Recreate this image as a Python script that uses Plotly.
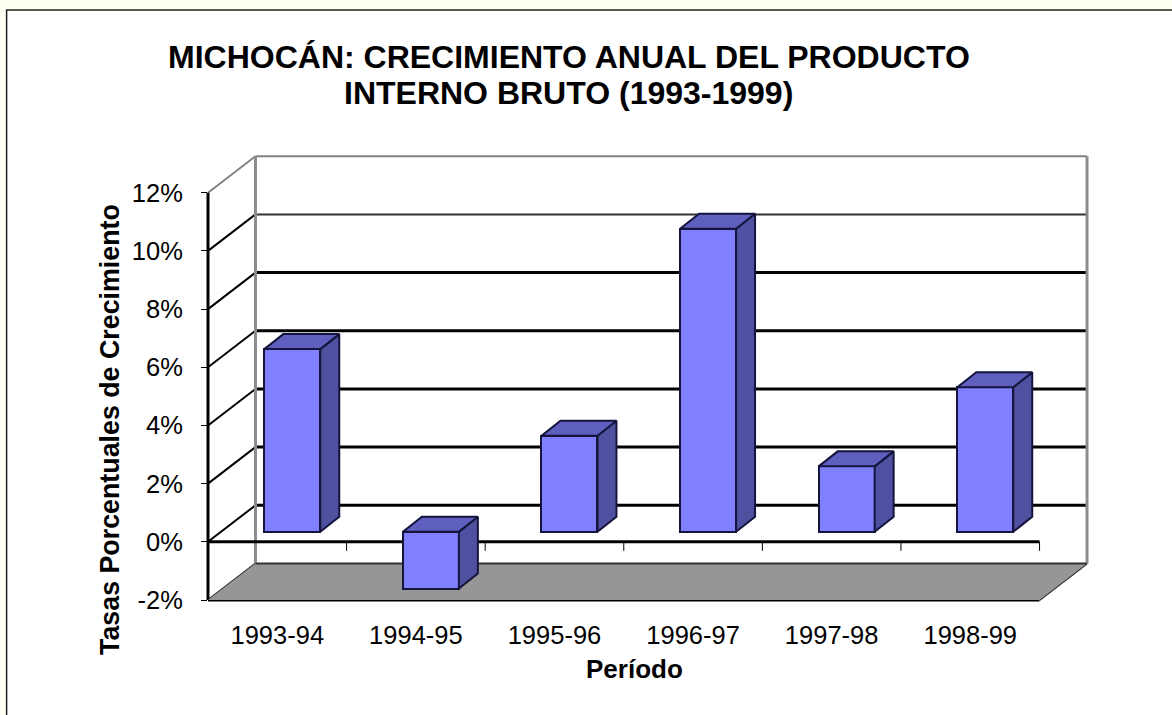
import plotly.graph_objects as go

# --- data ---
periods = ["1993-94", "1994-95", "1995-96", "1996-97", "1997-98", "1998-99"]
growth = [6.28, -1.95, 3.3, 10.42, 2.25, 4.97]
y_ticks = [-2, 0, 2, 4, 6, 8, 10, 12]
y_tick_labels = ["-2%", "0%", "2%", "4%", "6%", "8%", "10%", "12%"]
title_lines = ["MICHOCÁN: CRECIMIENTO ANUAL DEL PRODUCTO", "INTERNO BRUTO (1993-1999)"]
x_title = "Período"
y_title = "Tasas Porcentuales de Crecimiento"

# --- chart geometry (pixels and axis scale) ---
W, H = 1172, 715
PX_CAT = 832 / 6        # px per category
PX_PCT = 407 / 14       # px per percent
LEFT, BOTTOM = 208, 600
X_MAX, Y_MIN, Y_MAX = 6.4, -2, 13.4
plot_w = X_MAX * PX_CAT
plot_h = (Y_MAX - Y_MIN) * PX_PCT
WALL_DX, WALL_DY = 47.5 / PX_CAT, 36.5 / PX_PCT      # depth of the chart box
BAR_DX, BAR_DY = 15 / PX_CAT, 10 / PX_PCT            # where bars start in depth
BAR_W = 56 / PX_CAT
DEPTH_X, DEPTH_Y = 19 / PX_CAT, 15 / PX_PCT          # depth of a bar

FRONT, TOP, SIDE, EDGE = "#8080FF", "#5F5FBF", "#5050A0", "#14143C"
FLOOR = "#969696"
FONT = "Liberation Sans, Arial, sans-serif"

def px(x):
    return (x - LEFT) / plot_w
def py(y):
    return (BOTTOM - y) / plot_h

fig = go.Figure()
shapes = []
def seg(x0, y0, x1, y1, color, width):
    shapes.append(dict(type="line", xref="x", yref="y", x0=x0, y0=y0, x1=x1, y1=y1,
                       layer="below", line=dict(color=color, width=width)))
def edge(x0, y0, x1, y1, color, width):
    # same axis units, but in paper terms so that the plot border does not clip it
    fx = lambda v: v / X_MAX
    fy = lambda v: (v - Y_MIN) / (Y_MAX - Y_MIN)
    shapes.append(dict(type="line", xref="paper", yref="paper",
                       x0=fx(x0), y0=fy(y0), x1=fx(x1), y1=fy(y1),
                       layer="below", line=dict(color=color, width=width)))

# card
shapes.append(dict(type="rect", xref="paper", yref="paper", layer="below",
                   x0=px(6.5), y0=py(10.5), x1=px(W + 10), y1=py(H + 10),
                   fillcolor="white", line=dict(color="#222222", width=1.5)))
# floor
shapes.append(dict(type="path", xref="x", yref="y", layer="below",
                   path=f"M 0 {Y_MIN} L 6 {Y_MIN} L {6 + WALL_DX} {Y_MIN + WALL_DY} "
                        f"L {WALL_DX} {Y_MIN + WALL_DY} Z",
                   fillcolor=FLOOR, line=dict(width=0)))
# back wall gridlines and side wall lines
styles = {12: ("#808080", 2), 10: ("#333333", 2)}
for v in y_ticks[1:]:
    c, w = styles.get(v, ("#000000", 3))
    seg(WALL_DX, v + WALL_DY, 6 + WALL_DX, v + WALL_DY, c, w)
    edge(0, v, WALL_DX, v + WALL_DY, "#808080" if v == 12 else "#000000", 2)
seg(WALL_DX, Y_MIN + WALL_DY, WALL_DX, 12 + WALL_DY, "#8C8C8C", 3)
seg(6 + WALL_DX, Y_MIN + WALL_DY, 6 + WALL_DX, 12 + WALL_DY, "#8C8C8C", 3)
seg(WALL_DX, Y_MIN + WALL_DY, 6 + WALL_DX, Y_MIN + WALL_DY, "#333333", 2)
edge(0, Y_MIN, WALL_DX, Y_MIN + WALL_DY, "#333333", 2)
edge(6, Y_MIN, 6 + WALL_DX, Y_MIN + WALL_DY, "#222222", 2)
# zero line and its ticks
seg(0, 0, 6, 0, "#000000", 3)
for i in range(1, 7):
    seg(i, 0, i, -9 / PX_PCT, "#000000", 1)
# front axis line and the floor's front edge
edge(0, Y_MIN, 0, 12, "#000000", 3)
edge(0, Y_MIN, 6, Y_MIN, "#000000", 3)

# front faces
fig.add_trace(go.Bar(
    x=[i + 0.5 + BAR_DX for i in range(len(growth))],
    y=growth, base=BAR_DY, width=BAR_W,
    marker=dict(color=FRONT, line=dict(color=EDGE, width=2)),
    hoverinfo="skip", showlegend=False))

# side and top faces
for i, v in enumerate(growth):
    xl = i + 0.5 + BAR_DX - BAR_W / 2
    xr = xl + BAR_W
    top = max(v, 0) + BAR_DY
    bot = min(v, 0) + BAR_DY
    fig.add_trace(go.Scatter(
        x=[xr, xr + DEPTH_X, xr + DEPTH_X, xr, xr],
        y=[bot, bot + DEPTH_Y, top + DEPTH_Y, top, bot],
        mode="lines", fill="toself", fillcolor=SIDE,
        line=dict(color=EDGE, width=2), hoverinfo="skip", showlegend=False))
    fig.add_trace(go.Scatter(
        x=[xl, xl + DEPTH_X, xr + DEPTH_X, xr, xl],
        y=[top, top + DEPTH_Y, top + DEPTH_Y, top, top],
        mode="lines", fill="toself", fillcolor=TOP,
        line=dict(color=EDGE, width=2), hoverinfo="skip", showlegend=False))

def label(text, x, y, size, angle=0):
    return dict(text=f"<b>{text}</b>", x=px(x), y=py(y), xref="paper", yref="paper",
                xanchor="center", yanchor="middle", showarrow=False, textangle=angle,
                font=dict(family=FONT, size=size, color="#000000"))

annotations = [
    label(title_lines[0], 569, 57, 32),
    label(title_lines[1], 569, 93, 32),
    label(x_title, 635, 669, 26),
    label(y_title, 110, 430, 26.8, angle=-90),
]

fig.update_layout(
    width=W, height=H, autosize=False,
    margin=dict(l=LEFT, r=W - LEFT - plot_w, t=BOTTOM - plot_h, b=H - BOTTOM, pad=0),
    paper_bgcolor="#FFFFF2", plot_bgcolor="rgba(0,0,0,0)",
    shapes=shapes, annotations=annotations, showlegend=False, bargap=0,
    font=dict(family=FONT, color="#000000"),
    xaxis=dict(range=[0, X_MAX], tickmode="array",
               tickvals=[i + 0.5 for i in range(len(periods))], ticktext=periods,
               ticks="", showgrid=False, zeroline=False, showline=False,
               tickfont=dict(size=25.5), ticklabelstandoff=17),
    yaxis=dict(range=[Y_MIN, Y_MAX], tickmode="array", tickvals=y_ticks, ticktext=y_tick_labels,
               ticks="outside", ticklen=6, tickwidth=1, tickcolor="#000000",
               showgrid=False, zeroline=False, showline=False,
               tickfont=dict(size=25.5), ticklabelstandoff=13),
)

fig.write_html("out.html", config={"displayModeBar": False},
               post_script="document.body.style.margin='0';document.body.style.overflow='hidden';")
